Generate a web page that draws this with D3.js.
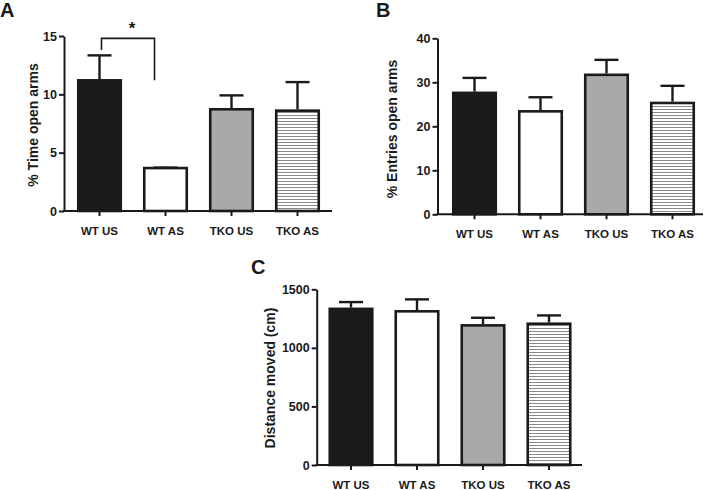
<!DOCTYPE html>
<html><head><meta charset="utf-8">
<script src="https://cdn.jsdelivr.net/npm/d3@7"></script>
<style>
body{margin:0;background:#fff;}
text{font-family:"Liberation Sans",Arial,sans-serif;font-weight:bold;fill:#1a1a1a;}
</style></head><body>
<svg id="chart" width="706" height="490"></svg>
<script>
const categories = ["WT US", "WT AS", "TKO US", "TKO AS"];
const timeOpenMean = [11.2, 3.68, 8.72, 8.6];
const timeOpenErr = [13.34, 3.72, 9.91, 11.05];
const entriesMean = [27.6, 23.4, 31.7, 25.3];
const entriesErr = [31.0, 26.6, 35.1, 29.2];
const distanceMean = [1333, 1312, 1192, 1206];
const distanceErr = [1391, 1414, 1257, 1277];
const timeTicks = [0, 5, 10, 15];
const entriesTicks = [0, 10, 20, 30, 40];
const distanceTicks = [0, 500, 1000, 1500];
const fills = ["#1b1b1b", "#ffffff", "#a9a9a9", "url(#hatch)"];

const svg = d3.select("#chart");
const ink = "#1a1a1a";

const defs = svg.append("defs");
const pat = defs.append("pattern").attr("id","hatch").attr("patternUnits","userSpaceOnUse")
  .attr("width",8).attr("height",3);
pat.append("rect").attr("width",8).attr("height",3).attr("fill","#fff");
pat.append("line").attr("x1",0).attr("x2",8).attr("y1",1.5).attr("y2",1.5)
  .attr("stroke","#8a8a8a").attr("stroke-width",1);

function panel(o){
  const g = svg.append("g");
  const y = d3.scaleLinear().domain([0, o.max]).range([o.y0, o.y1]);
  const x = d3.scaleBand().domain(categories).range([o.barStart, o.barStart + 243])
    .paddingInner(0.318).paddingOuter(0);
  const bw = x.bandwidth();

  g.selectAll(".bar").data(categories).join("rect")
    .attr("x", d => x(d) + 1.25)
    .attr("width", bw - 2.5)
    .attr("y", (d,i) => y(o.mean[i]))
    .attr("height", (d,i) => y(0) - y(o.mean[i]))
    .attr("fill", (d,i) => fills[i])
    .attr("stroke", ink).attr("stroke-width", 2.6);

  const eb = g.selectAll(".err").data(categories).join("g");
  eb.append("line")
    .attr("x1", d => x(d) + bw/2).attr("x2", d => x(d) + bw/2)
    .attr("y1", (d,i) => y(o.mean[i]) - 1.3).attr("y2", (d,i) => y(o.err[i]))
    .attr("stroke", ink).attr("stroke-width", 2.4);
  eb.append("line")
    .attr("x1", d => x(d) + bw/2 - 12).attr("x2", d => x(d) + bw/2 + 12)
    .attr("y1", (d,i) => y(o.err[i])).attr("y2", (d,i) => y(o.err[i]))
    .attr("stroke", ink).attr("stroke-width", 2.4);

  const ya = g.append("g").attr("transform", `translate(${o.axisX0},0)`)
    .call(d3.axisLeft(y).tickValues(o.ticks).tickFormat(d3.format("d"))
      .tickSize(5).tickPadding(2).tickSizeOuter(0));
  ya.select(".domain").attr("stroke", ink).attr("stroke-width", 2);
  ya.selectAll(".tick line").attr("stroke", ink).attr("stroke-width", 2);
  ya.selectAll(".tick text").attr("font-size", 12.5).attr("font-family", null).attr("fill", ink);

  const xa = g.append("g").attr("transform", `translate(0,${o.y0})`)
    .call(d3.axisBottom(x).tickSize(5).tickPadding(11).tickSizeOuter(0));
  xa.select(".domain").remove();
  xa.selectAll(".tick line").attr("stroke", ink).attr("stroke-width", 2);
  xa.selectAll(".tick text").attr("font-size", 11.5).attr("font-family", null).attr("fill", ink);
  g.append("line").attr("x1", o.axisX0 - 1).attr("x2", o.axisX1)
    .attr("y1", o.y0).attr("y2", o.y0).attr("stroke", ink).attr("stroke-width", 2);

  g.append("text").attr("transform", `translate(${o.titleX},${o.titleY}) rotate(-90)`)
    .attr("text-anchor", "middle").attr("dy", "0.35em").attr("font-size", 14).text(o.title);
  g.append("text").attr("x", o.letterX).attr("y", o.letterY).attr("font-size", 20).text(o.letter);
  return {x, y, g};
}

const A = panel({mean: timeOpenMean, err: timeOpenErr, max: 15, ticks: timeTicks,
  y0: 211, y1: 36, axisX0: 64, axisX1: 332, barStart: 77,
  title: "% Time open arms", titleX: 33, titleY: 125, letter: "A", letterX: 0, letterY: 17});
const B = panel({mean: entriesMean, err: entriesErr, max: 40, ticks: entriesTicks,
  y0: 214.3, y1: 38.3, axisX0: 437.5, axisX1: 703, barStart: 452,
  title: "% Entries open arms", titleX: 392, titleY: 129, letter: "B", letterX: 376, letterY: 17});
const C = panel({mean: distanceMean, err: distanceErr, max: 1500, ticks: distanceTicks,
  y0: 465, y1: 289.3, axisX0: 316.7, axisX1: 582, barStart: 328.5,
  title: "Distance moved (cm)", titleX: 270, titleY: 378, letter: "C", letterX: 251, letterY: 274});

const bx0 = A.x(categories[0]) + A.x.bandwidth()/2 + 2;
const bx1 = A.x(categories[1]) + A.x.bandwidth()/2 - 11;
const by = A.y(14.8);
A.g.append("path")
  .attr("d", `M${bx0},${A.y(13.8)}V${by}H${bx1}V${A.y(11.2)}`)
  .attr("fill", "none").attr("stroke", ink).attr("stroke-width", 1.6);
A.g.append("text").attr("x", (bx0 + bx1)/2 + 4).attr("y", by - 4)
  .attr("text-anchor", "middle").attr("font-size", 17).text("*");
</script></body></html>
